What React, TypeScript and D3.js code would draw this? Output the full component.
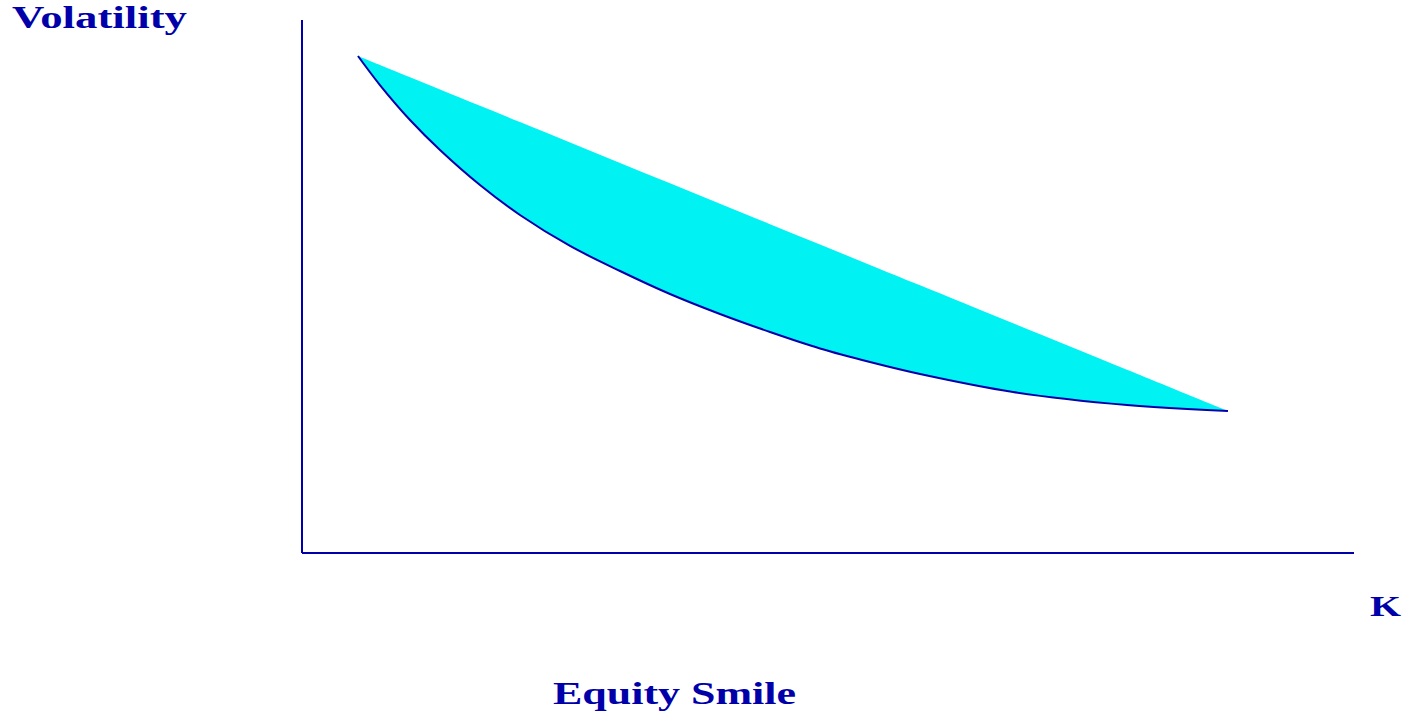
import React from "react";
import * as d3 from "d3";

const strikes = [5.32, 7.41, 10.27, 13.12, 16.92, 20.72, 25.48, 30.23, 34.98, 39.73, 44.49, 49.24, 53.99, 58.75, 67.59, 78.42, 88.02];
const smileVols = [93.25, 87.8, 81.24, 75.61, 69.04, 63.41, 57.6, 52.91, 48.59, 44.84, 41.46, 38.37, 35.83, 33.58, 30.21, 27.77, 26.64];

const W = 1403;
const H = 712;
const BLUE = "#0000AA";
const CYAN = "#00F2F2";

export default function App() {
  const x = d3.scaleLinear().domain([0, 100]).range([302, 1354]);
  const y = d3.scaleLinear().domain([0, 100]).range([553, 20]);

  const n = strikes.length;
  const chord = d3
    .scaleLinear()
    .domain([strikes[0], strikes[n - 1]])
    .range([smileVols[0], smileVols[n - 1]]);

  const pts = strikes.map((k, i) => ({ k, v: smileVols[i], top: chord(k) }));

  const area = d3
    .area<{ k: number; v: number; top: number }>()
    .x((d) => x(d.k))
    .y0((d) => y(d.v))
    .y1((d) => y(d.top))
    .curve(d3.curveCatmullRom.alpha(0.5));

  const line = d3
    .line<{ k: number; v: number; top: number }>()
    .x((d) => x(d.k))
    .y((d) => y(d.v))
    .curve(d3.curveCatmullRom.alpha(0.5));

  const font = "'Liberation Serif', 'Times New Roman', serif";

  return (
    <svg
      width={W}
      height={H}
      style={{ position: "fixed", left: 0, top: 0, background: "#fff" }}
    >
      <path d={area(pts) || ""} fill={CYAN} stroke="none" />
      <path d={line(pts) || ""} fill="none" stroke={BLUE} strokeWidth={2} />
      <line x1={x(0)} y1={y(100)} x2={x(0)} y2={y(0)} stroke={BLUE} strokeWidth={2} />
      <line x1={x(0)} y1={y(0)} x2={x(100)} y2={y(0)} stroke={BLUE} strokeWidth={2} />
      <text
        x={12}
        y={28}
        fontFamily={font}
        fontWeight="bold"
        fontSize={31}
        fill={BLUE}
        textLength={175}
        lengthAdjust="spacingAndGlyphs"
      >
        Volatility
      </text>
      <text
        x={1370}
        y={616}
        fontFamily={font}
        fontWeight="bold"
        fontSize={29}
        fill={BLUE}
        textLength={31}
        lengthAdjust="spacingAndGlyphs"
      >
        K
      </text>
      <text
        x={553}
        y={704}
        fontFamily={font}
        fontWeight="bold"
        fontSize={31}
        fill={BLUE}
        textLength={243}
        lengthAdjust="spacingAndGlyphs"
      >
        Equity Smile
      </text>
    </svg>
  );
}
